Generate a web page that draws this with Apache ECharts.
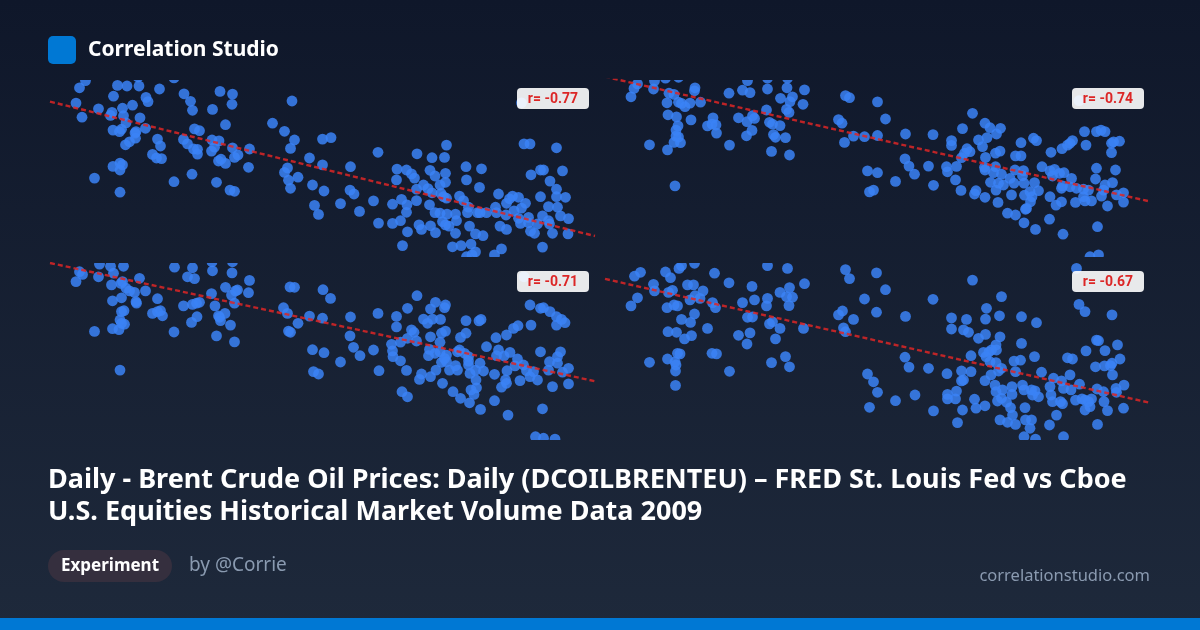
<!DOCTYPE html>
<html>
<head>
<meta charset="utf-8">
<script src="https://cdn.jsdelivr.net/npm/echarts@6/dist/echarts.min.js"></script>
<style>html,body{margin:0;padding:0;background:#0f172a;}#chart{width:1200px;height:630px;}</style>
</head>
<body>
<div id="chart"></div>
<script>
// ---------- data ----------
const brandName = 'Correlation Studio';
const titleLines = [
  'Daily - Brent Crude Oil Prices: Daily (DCOILBRENTEU) \u2013 FRED St. Louis Fed vs Cboe',
  'U.S. Equities Historical Market Volume Data 2009'
];
const tagLabel = 'Experiment';
const authorLabel = 'by @Corrie';
const siteLabel = 'correlationstudio.com';

const rValues = [-0.77, -0.74, -0.71, -0.67];
const xRange = [0, 109];
const yRange = [0, 59];
const trendAtXMin = [51.8, 60.1, 59.0, 53.7];
const trendAtXMax = [7.0, 18.5, 19.6, 12.4];

const panel1 = [
[7.1,58.8],[5.9,56.4],[13.5,57.2],[15.4,57],[17.8,57],[17.6,60],[21.9,56],[24.8,59.7],[12.7,53.6],[19.2,53.2],[19.6,51.8],[26.8,54.4],[34,55.2],[36.5,54.3],[28.1,51.9],[36.4,50.9],[48.4,52],[5.2,51.3],[9.7,49.4],[12.4,48.2],[12.1,47.2],[14.5,49.6],[16.5,50.6],[14.7,47.1],[18,46.4],[28.5,48.9],[32.5,49.2],[6.4,46.6],[15.2,44.7],[35.1,44.1],[44.5,44.6],[46.9,41.9],[12.6,42.3],[13.9,41.8],[14.3,42.6],[17.2,41.8],[19.1,42.9],[17,41.3],[17.1,39.6],[15.1,37.4],[15.9,38.4],[21.5,39.3],[22.1,37],[28.9,42.7],[29.9,42.1],[26.7,39.2],[27.5,37.7],[28.7,36],[29.5,34.3],[29.5,35.9],[32.4,39],[33.8,38.7],[32.9,36.6],[32.3,35.3],[48.9,39],[48.1,36.2],[36.5,36.4],[39.9,36],[37.6,34],[36.9,33.2],[20.5,34.2],[21.3,33],[22.3,32.8],[33.7,32],[34.2,32.6],[35.1,31.2],[12.6,30.2],[14,31.3],[14.5,30.7],[14,29],[39.7,29.9],[47.5,29.7],[46.9,28.2],[47.7,25.6],[49.6,26.6],[48.1,22.9],[8.9,26.3],[24.8,25.1],[28.4,27.6],[33.3,24.9],[36,22.3],[36.9,21.9],[14,21.6],
[54.5,39.3],[56.2,39.8],[65.6,34.9],[73.4,34.4],[79.3,37.3],[76.4,33.1],[78.9,33.2],[94.8,37.7],[96,37.7],[101.3,36.4],[51.9,33],[54.5,30.7],[60.1,30.1],[52.5,24],[54.8,22],[52.9,17.2],[53.7,14.2],[58.1,17.8],[60,22.3],[60.8,21],[61.9,15.2],[64.7,18.7],[65.7,11.3],[68.5,17.6],[68.5,11.2],[69.4,29.3],[69.3,25.7],[70.3,19.2],[71.4,17.4],[71.3,14.9],[70.1,12.1],[71.5,8.4],[70.5,3.8],[71.3,29],[72.3,27.7],[72.9,26.3],[73.3,22.6],[73.3,18.8],[73.8,10.7],[74.3,9.2],[74.7,24],[76,28.9],[77,27],[75.9,17.4],[76.1,10.4],[77.1,8.1],[75.6,22.8],[76.4,21.4],[78,24],[79.1,27.9],[79.1,24.9],[78.2,21.2],[78.7,20.1],[79.3,19.6],[77,14.8],[78,14.6],[79.4,14.3],[78.5,11.8],[79.1,10.7],[79.8,10.3],[81.1,14.3],[81.3,12.1],[81.1,7.9],[80.5,3.4],[82.2,3.8],[83.2,30.1],[83.3,25.7],[85.9,23.2],[86.3,29.4],[81.9,20.3],[82.7,18.8],[83.7,16.6],[83.5,14.8],[83.9,10.3],[85.1,7.7],[86.6,7.1],[84.2,4.3],[85.1,1.7],[84.4,0.7],[83.3,0.1],[85.5,14.8],[86,14.8],[87.3,14.8],[89.1,16.6],[89.3,14.8],[89.7,21],[90,10.3],[91.3,9.2],[88.9,0.7],[90.3,2.7],[91.3,17.9],[91.9,19.4],[92.5,20.3],[93.7,19.9],[92.8,15.4],[94.3,16.3],[95.1,17.9],[91.2,14],[93.7,12.9],[94.1,11.2],[95.7,13.2],[95.7,11.4],[97.5,11],[96.1,8.6],[96.9,7.9],[96.2,27.4],[98.1,29],[98.7,29],[100,25.3],[102.5,28.7],[98.1,20.1],[101.3,22.6],[101.3,20.1],[103.1,19.9],[99.7,16.8],[101.5,16.6],[98.5,13.7],[99.7,12.1],[99.9,11],[102.1,13.7],[103.7,12.8],[100.5,7.9],[103.6,7.7],[98.5,3.3],[94.3,51.4]
];

const panel2 = [
[9.9,58.7],[12.1,59.6],[14.7,59.9],[6.5,57.7],[5.8,56.2],[5.2,53.4],[9.7,56],[12.8,54.6],[13.8,54.2],[18,56.4],[17.9,55.4],[12.4,51.4],[14.7,51.6],[15.3,51.2],[16,50.1],[17,51.3],[19.1,51.6],[24.8,54.6],[27.5,55.6],[29,54.8],[28.5,58.8],[32.5,59.6],[32.5,56],[36.4,56.4],[36.5,59.6],[39.9,55.7],[35.1,52.9],[37.5,53.4],[37,51.8],[39.6,50.9],[36.3,49.2],[36.8,48.2],[32.3,49],[12.6,47.4],[14.3,46.7],[17.2,45.7],[21.6,46.4],[26.7,46.4],[29.5,47.1],[29.9,46.2],[28.4,45.1],[32.9,44.9],[33.5,44.3],[35,43.8],[14.6,43.7],[14.2,42.3],[20.5,43.7],[21.4,44.3],[22.2,44],[22.3,41.3],[29.4,42.2],[28.3,40.4],[33.7,40.8],[34.1,39.9],[36.1,39.8],[14.2,40.3],[14.7,40],[13.8,38.2],[15.1,38.1],[8.9,37.4],[12.5,35.7],[24.9,37.3],[33.3,35.2],[36.9,34],[46.7,45.8],[47.4,44.6],[48.1,53.8],[48.9,53.1],[47.9,38.2],[49.7,40.3],[51.9,40.1],[54.5,51.7],[54.5,40.5],[14,23.7],[52.5,28.7],[54.5,28.1],[52.9,21.7],[53.7,22.3],
[56.1,46],[60.1,41],[65.6,40.8],[73.5,47.9],[71.5,42.8],[76,44.6],[77,43.1],[79.1,42.9],[78.3,41],[76.4,39.8],[74.7,39],[69.3,38.8],[69.3,37.2],[75.5,36.8],[72.4,36.1],[73,35.1],[71.9,34.6],[71.3,33.1],[76.1,33.2],[78.1,34.6],[79,35.3],[60,32.7],[60.8,30.3],[64.7,30.3],[61.9,27.6],[58.1,25.2],[65.7,23.9],[68.3,30.1],[68.5,28.4],[70.3,30.2],[70.1,25.7],[71.2,22.2],[73.9,21],[74.2,22.1],[76,19.9],[75.9,29.9],[76,29],[78.1,30.1],[77.7,28.1],[79.3,27.6],[77.1,24.9],[78.7,24.6],[79.7,24],[78.2,22.3],[81,26.2],[82,29],[81.3,20.7],[78.6,18.2],[82.1,33.7],[83.2,33.7],[83.2,38.1],[85.7,39.6],[86.3,38.8],[81.8,24.6],[83.5,27.1],[83.8,24.6],[83.7,28.8],[85,21.8],[85.9,24.8],[83.9,20.6],[85.4,20.1],[85.1,18.4],[86.7,22.1],[87.4,30.1],[89,28.7],[89.9,29.2],[89.5,27],[90.9,27.9],[91.8,28.1],[93.3,26.2],[89,20.1],[84.3,16.2],[84.1,15.9],[80.5,14.6],[82.1,14],[83.8,11.4],[86.1,9.2],[88.9,12.6],[91.6,7.6],[89.2,34.9],[91.4,36.1],[92.5,37.3],[93.5,38.8],[93,37.9],[96.2,37.3],[95.9,41.8],[98.3,41.8],[99.2,42.3],[100,41.8],[101.3,37.9],[101.7,38.4],[102.9,38.6],[101.3,34.8],[98.3,29.6],[102.1,29],[98.1,26],[101.5,24.8],[100,24],[99.7,22.3],[91.3,22.9],[91.5,23.7],[93,23.4],[94.3,22.9],[95.7,22.6],[96.7,22.3],[95.7,20.1],[97.3,18.7],[96,18.7],[94.1,18.2],[91.3,18.4],[90.2,17.3],[99.3,20.3],[102.3,20.7],[103.7,21.4],[103.7,18.3],[100.5,17],[98.5,10.1],[98.7,0.7],[97,0.1],[94.8,52.1]
];

const panel3 = [
[9.9,58.6],[12.1,57.9],[14.7,57.9],[24.9,57.6],[28.5,57.4],[32.4,59.4],[32.5,56.4],[36.5,59.4],[36.4,55.7],[5.9,56.1],[6.5,55.2],[5.2,52.8],[9.7,54.4],[12.7,55.6],[12.3,51.7],[14.2,52.2],[14.5,52.8],[15.2,50.6],[15.9,49.7],[16.9,49.2],[17.9,53.9],[19.1,49.7],[12.5,46.4],[14.3,47.4],[17.2,46.1],[17.3,45.6],[21.5,47.1],[27.5,54.4],[28.9,53.8],[35.1,50.9],[37.1,49.7],[37.5,50],[36.3,48.3],[39.9,53.2],[39.7,49.1],[32.3,48.8],[36.9,45.6],[26.7,44.7],[28.5,45.2],[29.3,45.6],[29.9,45.9],[33,44.7],[14.3,42.8],[14.8,43.1],[14,40],[14.9,38.6],[14.3,38.9],[12.5,37.1],[13.8,36.8],[20.5,42.2],[21.5,42.8],[22.1,43.1],[22.5,41.4],[28.3,39.2],[29.4,41.1],[33.7,41.4],[33.9,40.9],[35,42.2],[34.1,39.8],[36.1,38.3],[8.9,36.2],[24.8,36],[33.3,34.7],[36.9,32.7],[14,23.3],[48,51],[48.9,50.9],[46.7,44.1],[47.5,42.2],[49.6,38.9],[47.7,36.3],[48.1,35.9],
[54.6,50.1],[56.1,47.2],[51.9,41.3],[54.5,40.6],[60.1,41],[52.5,30.1],[54.8,29.1],[52.7,22.8],[53.7,22],[58.1,26],[60,34.7],[60.7,30.9],[62,28.1],[64.7,30],[65.6,42.2],[65.8,23.1],[68.3,31.9],[68.5,29.7],[68.6,27.8],[69.3,41.2],[69.3,37.7],[70.1,26.4],[70.1,32.6],[71.3,23.2],[70.4,16.1],[71.5,14.4],[73.4,48.1],[71.5,43.9],[71.5,33.9],[72.3,36.7],[72.8,35.9],[73.3,33],[74.3,22],[73.9,20.2],[74.7,40.3],[75.5,38.9],[76.5,40.3],[76.1,43.7],[77.1,45.9],[79.1,45],[78.9,44.1],[78.1,40.2],[76.1,34.4],[78.3,35.6],[79.1,36.3],[78,32.6],[75.9,30.2],[75.7,28.1],[77,28.9],[78,29.4],[78.9,27.2],[79.3,28.3],[78.3,25.9],[79.3,26.1],[77.2,23.3],[76.1,21.1],[78.5,18.9],[79.9,23.3],[80.6,16.1],[81.1,24.8],[81.5,23.3],[82.1,13.9],[81.5,29.4],[82.1,34.2],[83.2,35.6],[83.2,39.8],[85.8,39.7],[86.2,40.2],[81.9,30],[82.9,28.9],[83.7,27.8],[83.7,26.3],[83.7,25],[84,22.2],[85.2,20],[85.3,17.4],[84.2,16.7],[84.8,15.2],[83.9,12.4],[86.1,10.2],[86,25.6],[86.7,23],[85.1,23.3],[87.3,31.1],[89.2,34.1],[89.7,30],[89.3,28.1],[88.9,21.9],[88.9,13.1],[90.3,17.6],[91.1,20],[91.3,18.9],[91.6,8.3],[90.8,28],[92,29.2],[91.3,35],[92.7,37.2],[93.6,38.1],[91.4,23.1],[93,24.7],[93.5,27],[94.7,25],[94,19.8],[95.3,23.1],[96,21.1],[96.7,22.8],[97.5,20],[96,45],[96.2,38.3],[98.1,43.9],[98.7,44.1],[100,42.8],[101.3,41.1],[101.3,38.3],[102.3,40.2],[103,39.1],[98.1,29.4],[99.9,26.1],[99.7,23.3],[101.5,25.6],[102.1,29.4],[101.5,27.8],[103.7,23.9],[102.5,22.6],[100.5,17.8],[103.7,18.7],[98.5,10.4],[97.1,1.1],[98.7,0.6],[101,0.3],[94.8,54.4]
];

const panel4 = [
[15.3,58.1],[14.8,57.2],[17.9,58.9],[32.5,58.1],[36.5,57.2],[48.1,56.8],[48.9,53.8],[54.3,55.7],[7.1,55.9],[5.9,54.6],[12.1,56],[13.1,54.1],[21.9,55.6],[24.8,52.4],[29.4,51.2],[39.9,52.1],[9.7,51.9],[9.9,49.7],[12.7,49.2],[13.5,49.9],[16.5,51.7],[17.7,51.7],[19.6,49.7],[18,48.1],[19,47.2],[17,46.7],[6.5,47.4],[5.2,44.7],[12.4,44.1],[13.8,45],[14.5,44.7],[21.5,45.8],[22.1,44.1],[27.5,45.8],[29.9,46.7],[32.5,47.2],[32.3,44.7],[35,49.2],[36.9,50.8],[36.3,47.8],[37.5,47.6],[36.8,44.8],[15.3,40.2],[17.9,42],[17.1,39.2],[28.5,40.9],[29.5,41],[32.9,38.7],[33.5,39.4],[35,37.2],[39.7,37.2],[20.5,37.2],[12.6,36.1],[14.3,35.9],[15.9,33.7],[17.3,34.8],[26.7,34.9],[29,35.7],[28.4,32],[34.1,33.7],[8.9,25.9],[12.5,27],[14.5,28.9],[15,28.7],[14,26.1],[14.2,25],[14.1,23],[14.1,18.2],[21.4,28.9],[22.3,28.7],[24.9,22.9],[33.3,25.8],[36.1,27.8],[36.9,24.4],[46.7,41.7],[47.5,43],[49.7,40.2],[47.7,37.4],[48.1,36.1],[51.9,47],[54.3,42.6],[52.5,22],[53.7,19.4],[54.5,15.9],[52.9,10.9],
[56.1,50.1],[60.1,41.2],[65.6,46.9],[73.5,53.3],[79.3,47.8],[76.3,43.9],[76.1,40.3],[72.3,40.2],[69.3,40.7],[69.3,37],[71.7,36.7],[72.7,35.9],[78.9,41.4],[83.3,41.1],[86.3,39.1],[76.1,35.2],[74.7,33.9],[79,34.4],[78.2,31.7],[78.3,30],[77.3,30],[76.8,29.4],[75.7,29.2],[76.2,27.8],[73.2,28.1],[77,26.1],[78.2,25.8],[79.3,23.9],[78.7,23],[83.3,32.2],[85.9,27.8],[81.8,26.3],[83.1,26.6],[82.1,22.8],[87.3,22.6],[60,27.6],[60.8,24.3],[64.7,23.9],[68.4,22.1],[71.3,23],[73.2,22.8],[71.3,19.7],[71.7,20],[76,19.8],[77.2,21.7],[58.1,13.1],[62,15],[65.7,9.7],[68.5,15.2],[68.5,13.7],[70.1,13.7],[70.3,16.3],[71.5,10],[70.5,5.8],[73.9,13.6],[74.2,10.6],[76,11.4],[78,18.3],[78.2,16.1],[79.5,16.7],[78.5,13],[79.3,13.9],[80.3,12.6],[81.1,10.8],[81.5,8.3],[79,6.7],[80.5,5.9],[82.1,5.2],[81.4,17.8],[81.4,15.2],[83.5,18.3],[83.8,16.7],[85.3,16.7],[86,16.4],[85.5,15],[86.7,14.4],[84,10.8],[84.1,6.7],[85.3,6.7],[85,3.9],[83.8,1.1],[86.1,0.3],[88.9,5],[89,17.8],[89.2,15],[89.5,12.8],[90.3,8.3],[89.7,20.6],[91.3,19.7],[91.7,17.2],[91.1,12.8],[91.5,12.1],[91.7,1.1],[93,21.7],[92.5,27.4],[93.5,27],[93.2,16.7],[94.1,13.3],[94.9,18.6],[95.4,13.7],[96,13.3],[96.7,12.8],[97.3,13.7],[96,10],[97,11.1],[98.4,17],[99.7,16.1],[99.8,12.8],[100.5,9.8],[98.5,5.2],[96.2,29.7],[98.3,33.3],[98.7,33.1],[100,29.8],[102.5,31.7],[103,27],[101.4,25.6],[101.1,24.8],[98.1,24.4],[99.9,24.7],[101.5,21.7],[102.2,17.2],[102.3,15.9],[103.8,18.3],[103.7,10.6],[101.4,41.7],[94.8,45.2],[96,42.8],[94.3,57.2]
];

const panels = [panel1, panel2, panel3, panel4];

// ---------- layout & style ----------
const gridBoxes = [
  {left: 50, top: 80}, {left: 605, top: 80},
  {left: 50, top: 263}, {left: 605, top: 263}
];
const GRID_W = 545, GRID_H = 177;
const DOT = '#3b82f6';
const UI_FONT = '"Noto Sans", "Open Sans", sans-serif';

const chart = echarts.init(document.getElementById('chart'), null, {renderer: 'canvas'});

const grids = [], xAxes = [], yAxes = [], series = [], graphics = [];

graphics.push({
  type: 'rect', z: -100, silent: true,
  shape: {x: 0, y: 0, width: 1200, height: 630},
  style: {fill: new echarts.graphic.LinearGradient(0, 0, 0, 1, [
    {offset: 0, color: '#0f172a'}, {offset: 1, color: '#1e293b'}
  ])}
});

panels.forEach((pts, i) => {
  const g = gridBoxes[i];
  grids.push({left: g.left, top: g.top, width: GRID_W, height: GRID_H, containLabel: false});
  xAxes.push({type: 'value', gridIndex: i, min: xRange[0], max: xRange[1], show: false});
  yAxes.push({type: 'value', gridIndex: i, min: yRange[0], max: yRange[1], show: false});
  series.push({
    type: 'custom', xAxisIndex: i, yAxisIndex: i, data: pts, clip: true, z: 2, silent: true,
    renderItem: (params, api) => {
      const p = api.coord([api.value(0), api.value(1)]);
      return {type: 'circle', shape: {cx: p[0], cy: p[1], r: 5.4}, style: {fill: DOT, opacity: 0.85}};
    }
  });
  series.push({
    type: 'line', xAxisIndex: i, yAxisIndex: i, z: 3, silent: true, clip: true,
    symbol: 'none', showSymbol: false,
    data: [[xRange[0], trendAtXMin[i]], [xRange[1], trendAtXMax[i]]],
    lineStyle: {color: '#dc2626', width: 2.4, type: [5, 3], opacity: 0.85}
  });
  const bx = g.left + GRID_W - 6 - 72, by = g.top + 8;
  graphics.push({type: 'rect', z: 10, silent: true,
    shape: {x: bx, y: by, width: 72, height: 21, r: 4},
    style: {fill: 'rgba(255,255,255,0.9)'}});
  graphics.push({type: 'text', z: 11, silent: true, x: bx + 36, y: by + 11,
    style: {text: 'r= ' + rValues[i].toFixed(2), fill: '#dc2626',
      font: 'bold 14px Roboto, "Liberation Sans", Arial, sans-serif', align: 'center', verticalAlign: 'middle'}});
});

// header
graphics.push({type: 'rect', z: 5, shape: {x: 48, y: 36, width: 28, height: 28, r: 5}, style: {fill: '#0078d4'}});
graphics.push({type: 'text', z: 5, x: 88, y: 50,
  style: {text: brandName, fill: '#ffffff', font: 'bold 21px ' + UI_FONT, verticalAlign: 'middle'}});
// title
titleLines.forEach((t, k) => {
  graphics.push({type: 'text', z: 5, x: 48, y: 480 + k * 32,
    style: {text: t, fill: '#ffffff', font: 'bold 27px ' + UI_FONT, verticalAlign: 'middle'}});
});
// footer
graphics.push({type: 'rect', z: 5, shape: {x: 48, y: 550, width: 124, height: 32, r: 16}, style: {fill: '#352f3e'}});
graphics.push({type: 'text', z: 6, x: 110, y: 566,
  style: {text: tagLabel, fill: '#ffffff', font: 'bold 17px ' + UI_FONT, align: 'center', verticalAlign: 'middle'}});
graphics.push({type: 'text', z: 5, x: 189, y: 566,
  style: {text: authorLabel, fill: '#8a9ab0', font: '19px ' + UI_FONT, verticalAlign: 'middle'}});
graphics.push({type: 'text', z: 5, x: 1150, y: 576,
  style: {text: siteLabel, fill: '#8a9ab0', font: '16.5px ' + UI_FONT, align: 'right', verticalAlign: 'middle'}});
graphics.push({type: 'rect', z: 5, shape: {x: 0, y: 618, width: 1200, height: 12}, style: {fill: '#0078d4'}});

chart.setOption({
  animation: false,
  backgroundColor: '#0f172a',
  grid: grids,
  xAxis: xAxes,
  yAxis: yAxes,
  series: series,
  graphic: {elements: graphics}
});
</script>
</body>
</html>
